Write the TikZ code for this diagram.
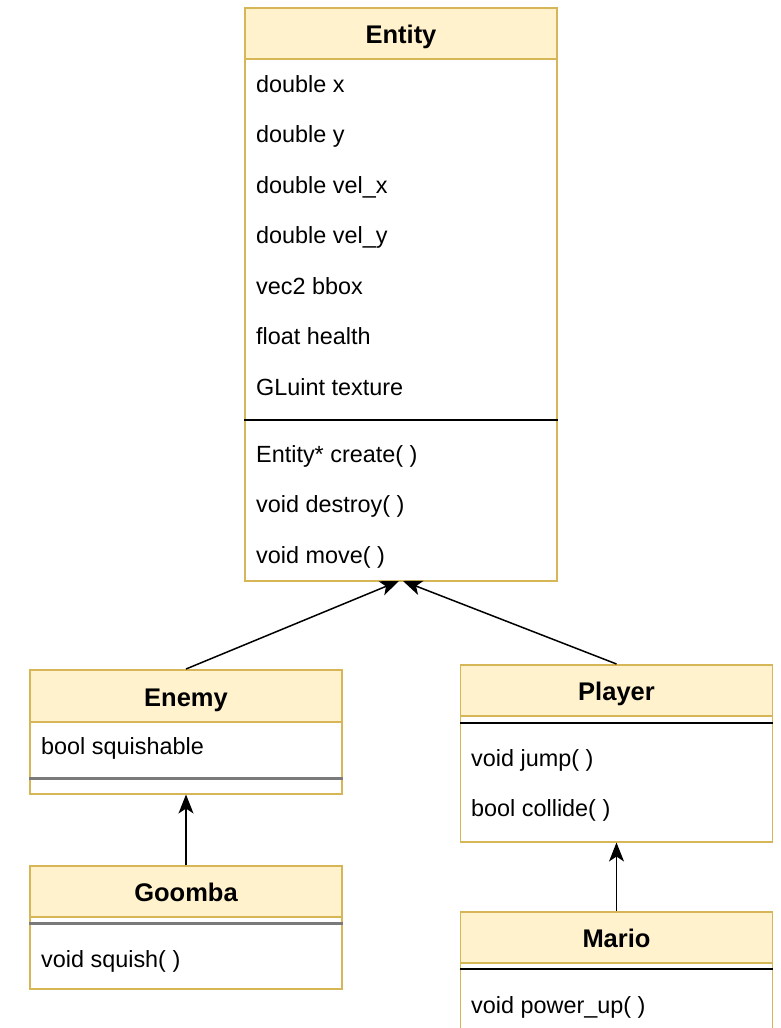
\documentclass[tikz,border=0pt]{standalone}
\usepackage{fontspec}
\setmainfont{Liberation Sans}
\usetikzlibrary{arrows.meta}
\definecolor{hdrfill}{HTML}{FFF2CC}
\definecolor{boxline}{HTML}{D6B656}
\definecolor{sepgray}{HTML}{7A7A7A}
\newcommand{\rowfont}{\fontsize{23.4}{28}\selectfont}
\newcommand{\hdrfont}{\fontsize{25.5}{30}\selectfont\bfseries}
\tikzset{
  hdr/.style={draw=boxline, fill=hdrfill, line width=1.5pt, minimum width=312pt,
    inner sep=0pt, anchor=north, font=\hdrfont, text height=21pt, text depth=0pt},
  body/.style={draw=boxline, fill=white, line width=1.5pt, minimum width=312pt,
    inner sep=0pt, anchor=north},
  row/.style={anchor=base west, inner sep=0pt, font=\rowfont},
  sepline/.style={line width=1.6pt, black},
  septhick/.style={line width=3pt, sepgray},
  inherit/.style={-{Stealth[length=19pt, width=15pt, inset=5pt]}, line width=1.5pt, black},
}
\begin{document}
\begin{tikzpicture}[x=1pt, y=-1pt]
\useasboundingbox (0,0) rectangle (780,1028);
\fill[white] (0,0) rectangle (780,1028);

% ---- Entity ----
\node[body, minimum height=522pt] (entityB) at (401,58) {};
\node[hdr, minimum height=51pt] (entityH) at (401,7) {Entity};
\node[row] (ex)   at (256,92)  {double x};
\node[row] (ey)   at (256,142.5) {double y};
\node[row] (evx)  at (256,193) {double vel\_x};
\node[row] (evy)  at (256,243.5) {double vel\_y};
\node[row] (ebb)  at (256,294) {vec2 bbox};
\node[row] (ehp)  at (256,344.5) {float health};
\node[row] (etx)  at (256,395) {GLuint texture};
\draw[sepline] (entityB.west |- 0,420) -- (entityB.east |- 0,420);
\node[row] (ecr)  at (256,462) {Entity* create( )};
\node[row] (eds)  at (256,512.5) {void destroy( )};
\node[row] (emv)  at (256,563) {void move( )};

% ---- Enemy ----
\node[body, minimum height=72pt] (enemyB) at (186,721) {};
\node[hdr, minimum height=52pt] (enemyH) at (186,669) {Enemy};
\node[row] (esq) at (41,754) {bool squishable};
\draw[septhick] (enemyB.west |- 0,778) -- (enemyB.east |- 0,778);

% ---- Goomba ----
\node[body, minimum height=72pt] (goombaB) at (186,916) {};
\node[hdr, minimum height=51pt] (goombaH) at (186,865) {Goomba};
\draw[septhick] (goombaB.west |- 0,923) -- (goombaB.east |- 0,923);
\node[row] (gsq) at (41,967) {void squish( )};

% ---- Player ----
\node[body, minimum height=126pt] (playerB) at (616.5,715) {};
\node[hdr, minimum height=51pt] (playerH) at (616.5,664) {Player};
\draw[sepline] (playerB.west |- 0,723) -- (playerB.east |- 0,723);
\node[row] (pjp) at (471,766) {void jump( )};
\node[row] (pcl) at (471,816) {bool collide( )};

% ---- Mario (continues below the page edge) ----
\node[body, minimum height=90pt] (marioB) at (616.5,962) {};
\node[hdr, minimum height=51pt] (marioH) at (616.5,911) {Mario};
\draw[sepline] (marioB.west |- 0,969) -- (marioB.east |- 0,969);
\node[row] (mpu) at (471,1013) {void power\_up( )};

% ---- inheritance ----
\coordinate (tipL) at (399,581);
\coordinate (tipR) at (403,581);
\draw[inherit] (enemyH.north) -- (tipL);
\draw[inherit] (playerH.north) -- (tipR);
\draw[inherit] (goombaH.north) -- (enemyB.south);
\draw[inherit] (marioH.north) -- (playerB.south);
\end{tikzpicture}
\end{document}
